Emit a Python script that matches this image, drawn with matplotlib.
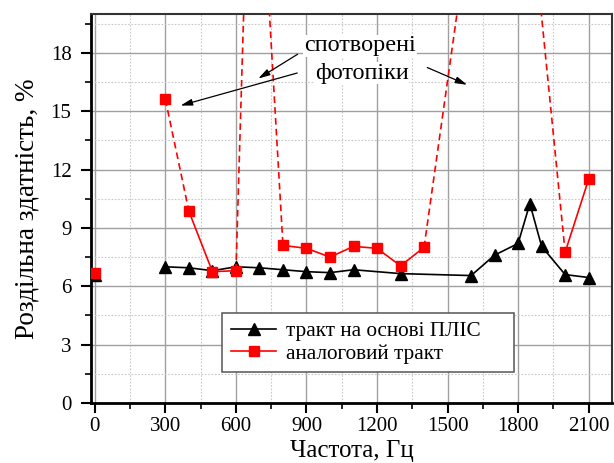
import matplotlib
matplotlib.use("Agg")
import matplotlib.pyplot as plt
from matplotlib.ticker import MultipleLocator

plt.rcParams['font.family'] = ['Liberation Serif', 'DejaVu Serif']

# тракт на основі ПЛІС
fpga_freq = [0, 300, 400, 500, 600, 700, 800, 900, 1000, 1100, 1300, 1600, 1700, 1800, 1850, 1900, 2000, 2100]
fpga_res = [6.6, 7.0, 6.95, 6.8, 7.0, 6.95, 6.85, 6.75, 6.7, 6.85, 6.65, 6.55, 7.6, 8.2, 10.25, 8.05, 6.6, 6.45]

# аналоговий тракт
analog_freq = [0, 300, 400, 500, 600, 800, 900, 1000, 1100, 1200, 1300, 1400, 2000, 2100]
analog_res = [6.7, 15.6, 9.85, 6.75, 6.8, 8.1, 7.95, 7.5, 8.05, 7.95, 7.05, 8.0, 7.75, 11.5]

# off-scale distorted photopeaks (estimated apex, outside the visible range)
peak1_freq = [600, 670, 800]
peak1_res = [6.8, 35.0, 8.1]
peak2_freq = [1400, 1750, 2000]
peak2_res = [8.0, 38.0, 7.75]

fig = plt.figure(figsize=(6.14, 4.63), dpi=100)
ax = fig.add_axes([0.148, 0.1296, 0.849, 0.8404])

red = '#ff0000'
dash = (0, (4, 2.5))

# black series
ax.plot(fpga_freq[1:], fpga_res[1:], color='black', lw=1.2, zorder=3)
ax.plot(fpga_freq, fpga_res, ls='none', marker='^', ms=8.5, color='black', zorder=4)

# red series: solid pieces and dashed pieces
ax.plot(analog_freq[2:5], analog_res[2:5], color=red, lw=1.2, zorder=5)
ax.plot(analog_freq[5:12], analog_res[5:12], color=red, lw=1.2, zorder=5)
ax.plot(analog_freq[12:], analog_res[12:], color=red, lw=1.2, zorder=5)
ax.plot(analog_freq[1:3], analog_res[1:3], color=red, lw=1.2, ls=dash, zorder=5)
ax.plot(peak1_freq, peak1_res, color=red, lw=1.2, ls=dash, zorder=5)
ax.plot(peak2_freq, peak2_res, color=red, lw=1.2, ls=dash, zorder=5)
ax.plot(analog_freq, analog_res, ls='none', marker='s', ms=6.5, color=red, zorder=6)

# legend proxies
h1, = ax.plot([], [], color='black', lw=1.2, marker='^', ms=8.5)
h2, = ax.plot([], [], color=red, lw=1.2, marker='s', ms=6.5)
leg = ax.legend([h1, h2], ['тракт на основі ПЛІС', 'аналоговий тракт'],
                loc='upper left', bbox_to_anchor=(0.252, 0.093, 0.56, 0.138),
                mode='expand', borderaxespad=0,
                fontsize=15.3, frameon=True, fancybox=False, framealpha=1,
                edgecolor='#555555', handlelength=2.15, handletextpad=0.47,
                borderpad=0.4, labelspacing=0.12)
leg.get_frame().set_linewidth(1.1)
leg.set_zorder(10)

ax.set_xlim(-17, 2200)
ax.set_ylim(0, 20)
ax.xaxis.set_major_locator(MultipleLocator(300))
ax.xaxis.set_minor_locator(MultipleLocator(150))
ax.yaxis.set_major_locator(MultipleLocator(3))
ax.yaxis.set_minor_locator(MultipleLocator(1.5))

ax.grid(which='major', color='#a0a0a0', lw=1.0, ls='-', zorder=0)
ax.grid(which='minor', color='#c8c8c8', lw=0.8, ls=(0, (1.5, 1.5)), zorder=0)
ax.set_axisbelow(True)

ax.tick_params(which='major', direction='out', length=7, width=1.5, labelsize=15, pad=3)
ax.tick_params(axis='y', which='major', pad=7)
ax.tick_params(which='minor', direction='out', length=4, width=1.2)

for s in ['left', 'bottom']:
    ax.spines[s].set_linewidth(2)
    ax.spines[s].set_color('black')
for s in ['top', 'right']:
    ax.spines[s].set_linewidth(1.5)
    ax.spines[s].set_color('#333333')

ax.set_xlabel('Частота, Гц', fontsize=18, labelpad=3)
ax.set_ylabel('Роздільна здатність, %', fontsize=19.5, labelpad=8)

# annotation
ax.text(1128, 18.35, 'спотворені', fontsize=17.5, ha='center', va='center', zorder=8,
        bbox=dict(facecolor='white', edgecolor='none', pad=0.5))
ax.text(1135, 16.95, 'фотопіки', fontsize=17.5, ha='center', va='center', zorder=8,
        bbox=dict(facecolor='white', edgecolor='none', pad=0.5))
arrow = dict(arrowstyle='-|>,head_length=0.7,head_width=0.2', color='black', lw=0.9)
ax.annotate('', xy=(685, 16.6), xytext=(872, 18.0), arrowprops=arrow, zorder=9)
ax.annotate('', xy=(353, 15.25), xytext=(872, 17.0), arrowprops=arrow, zorder=9)
ax.annotate('', xy=(1594, 16.3), xytext=(1403, 17.3), arrowprops=arrow, zorder=9)

fig.savefig('out.png', dpi=100)
